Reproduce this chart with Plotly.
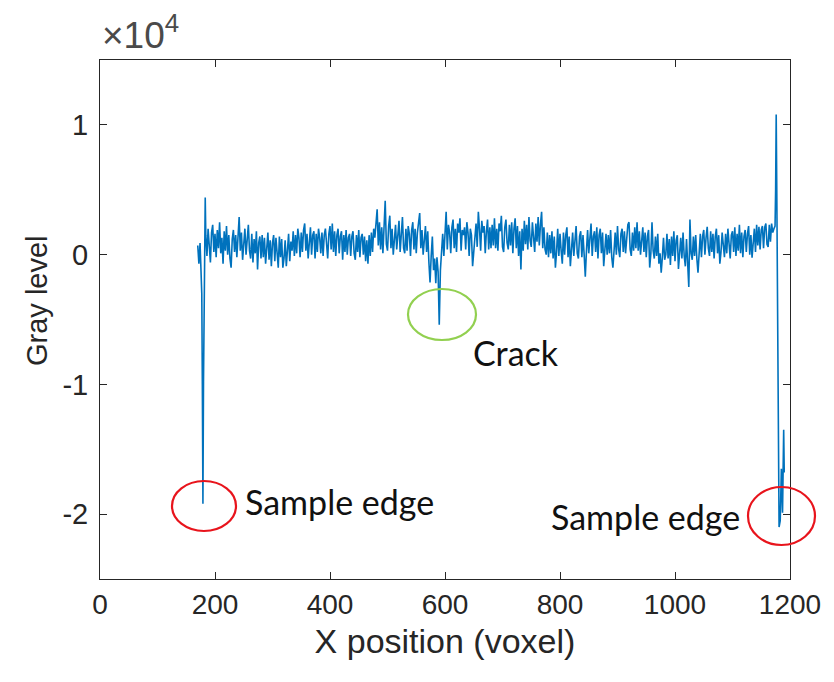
import plotly.graph_objects as go

# ---------------- data ----------------
left_edge_x = [170, 172, 174, 176, 177, 178, 179, 180, 181, 182, 183]
left_edge_y = [700, -700, 900, -1200, -3000, -10000, -19200, -9800, -2500, 1500, 4400]

interior_start = 184
interior_step = 2
interior_y = [
    1500, -100, 2000, 600, -600, 1700, 2300, 200, 1600, -200, 1900, 500, 2500, 100, 1300, -700, 1800, 300, 2200, 0, 1500, -300, -1000, 1200, 1900,
    200, 1500, -200, 1800, 2900, 300, 1700, -400, 1300, 2000, 0, 1500, 2300, 300, -300, 1600, -600, 1200, 100, 1800, -1150, 900, 1400, -300, 1500,
    -200, 1300, -700, 1000, 1700, -400, 1100, -900, 900, 1500, -500, 1300, 0, -1000, 1400, -200, 1200, -1000, -300, 1100, -900, 800, 1600, -500, 1000,
    300, 1800, -100, 1500, 100, 2000, 1300, -200, 1700, 200, 1900, 2400, 300, 1600, -300, 1400, 2100, 0, 1500, 1800, -300, 1600, 200, 2000, 1300,
    100, 1700, -100, 1500, 2000, 300, -300, 1600, 2200, 400, 2400, 200, 1800, -100, 1500, 2000, 100, 1400, 1800, -400, 1500, 200, 1900, 0, 1300,
    1600, -100, 1400, 1800, 100, -400, 1500, 200, 1900, -200, 1300, 1600, 0, 1400, -500, 1100, -700, 1500, -100, 1700, 200, 2000, 1300, 2300, 3500,
    700, 2500, 400, 2100, 100, 2800, 4150, 800, 300, 2200, 3000, 500, 2000, 0, 1700, 2300, 400, 1900, 2600, 200, 1800, 2900, 500, 100, 2000,
    300, 2200, 1600, -100, 1900, 2500, 400, 2000, 100, 1700, 2300, 3200, 500, 1900, 0, 1600, 2200, 200, 1800, -600, -2150, -100, 1400, -1200, -300,
    -2200, -200, -1300, -5400, -1200, 200, 1600, -100, 2000, 3300, 400, 2300, 1700, 100, 2100, 2700, 500, 2000, 200, 2400, 1700, 2800, 300, 1900, 1500,
    2100, 400, 2500, 1700, -100, 2000, 1500, -900, 200, 1900, 2400, 600, 3300, 2000, 300, 2600, 1700, 2200, 100, 1800, 2700, 400, 2100, 500, 2300,
    700, 2800, 500, 2000, 300, 2400, 1800, 3000, 600, 200, 2100, 2700, 900, 400, 2300, 700, 2500, 100, 2000, 2800, 500, 2200, -100, 1800, -1150,
    2000, 300, 2600, 800, 2300, 400, 2900, 1100, 600, 2500, 900, 200, 2400, 1000, 2900, 700, 2300, 3300, 500, 2100, 400, 0, 1700, -200, 1500,
    100, 1800, -300, 1400, -1000, 200, 2000, -100, 1600, 300, -700, 1700, 0, 1500, 2100, -200, 1400, -900, 200, 1700, -100, 1500, 2200, 100, -300,
    1400, 1800, -200, 1500, 0, -1700, 300, 1900, 100, 1600, 2400, -100, 1400, 1800, 200, 2100, -300, 1500, 2000, 100, 1700, -900, 300, 1600, 0,
    1500, 100, 1900, -200, -1000, 300, 1700, 0, 2200, 400, -200, 1600, 2000, 200, 1800, 100, 1500, 2300, 2500, 400, -100, 1700, 300, 2100, 500,
    2500, 300, 1800, 0, 1500, 2100, 200, 1700, -200, 1400, 1900, -1000, 100, 2500, 300, -300, 1400, -100, 1600, -700, 100, -1400, -200, 1300, -400,
    0, 1600, -300, 1200, -800, 1400, -100, 1800, -500, 1100, 1500, -1100, 0, 1300, -300, 1700, -100, -900, 1200, -200, -2500, 2700, 100, -400, 1400,
    -100, 1500, -300, -1400, 100, 1600, -200, 1400, 1900, 0, 1300, 2150, 500, -100, 1800, 200, 1600, -300, 1400, 2000, 100, 1500, -700, 200, 1700,
    300, -200, 1600, 100, 2000, 400, -300, 1500, 1800, 200, 2100, -100, 1600, 300, 2300, 100, 1700, -200, 1400, 1900, 200, 1600, 2200, 0, 1500,
    -230, 1400, 2000, 200, 2300, 700, 2150, 400, 1900, 2200, 500, 2100, 2400, 800, 600, 2300, 1000, 2400, 1700,
]

right_edge_x = [1172, 1174, 1175, 1176, 1177, 1179, 1181, 1183, 1185, 1187, 1189, 1190]
right_edge_y = [2000, 2200, 5000, 10800, 5000, -8600, -21000, -20500, -16500, -19900, -13500, -16800]

x_ticks = [0, 200, 400, 600, 800, 1000, 1200]
y_ticks = [-20000, -10000, 0, 10000]
y_tick_text = ["-2", "-1", "0", "1"]

interior_x = [interior_start + interior_step * i for i in range(len(interior_y))]
xs = left_edge_x + interior_x + right_edge_x
ys = left_edge_y + interior_y + right_edge_y

# ---------------- layout geometry ----------------
W, H = 834, 682
OFF = 8                      # page body margin
L, R, T, B = 100, 790, 60, 579   # plot box as seen on screen


def px_x(p):
    return (p - L) / (R - L)


def px_y(p):
    return (B - p) / (B - T)


FONT = "Liberation Sans, Arial"
INK = "#262626"

fig = go.Figure()
fig.add_trace(go.Scatter(x=xs, y=ys, mode="lines",
                         line=dict(color="#0072BD", width=1.6), showlegend=False))

axis_common = dict(showgrid=False, zeroline=False, showline=True, linecolor=INK,
                   linewidth=1, mirror="ticks", ticks="inside", ticklen=7,
                   tickcolor=INK, tickwidth=1)

fig.update_xaxes(range=[0, 1200], tickvals=x_ticks,
                 tickfont=dict(family=FONT, size=28, color=INK),
                 title=dict(text="X position (voxel)", standoff=10,
                            font=dict(family=FONT, size=34, color=INK)),
                 **axis_common)
fig.update_yaxes(range=[-25000, 15000], tickvals=y_ticks, ticktext=y_tick_text,
                 tickfont=dict(family=FONT, size=29, color=INK), ticklabelstandoff=5,
                 **axis_common)

fig.update_layout(width=W, height=H,
                  margin=dict(l=L - OFF, r=W - (R - OFF), t=T - OFF, b=H - (B - OFF)),
                  paper_bgcolor="white", plot_bgcolor="white")

# y-axis title (placed as in the reference, slightly above plot centre)
fig.add_annotation(text="Gray level", xref="paper", yref="paper",
                   x=px_x(37), y=px_y(301), xanchor="center", yanchor="middle",
                   textangle=-90, showarrow=False,
                   font=dict(family=FONT, size=29, color=INK))

# exponent label
fig.add_annotation(text="×10<sup>4</sup>", xref="paper", yref="paper",
                   x=0, y=1.0, xanchor="left", yanchor="bottom", yshift=2, showarrow=False,
                   font=dict(family=FONT, size=37, color="#4a4a4a"))

# callouts
ann_font = dict(family="Lato, Open Sans", size=34, color="#111111")
fig.add_annotation(text="Sample edge", xref="paper", yref="paper", x=px_x(243), y=px_y(501),
                   xanchor="left", yanchor="middle", showarrow=False, font=ann_font)
fig.add_annotation(text="Crack", xref="paper", yref="paper", x=px_x(471), y=px_y(352),
                   xanchor="left", yanchor="middle", showarrow=False, font=ann_font)
fig.add_annotation(text="Sample edge", xref="paper", yref="paper", x=px_x(549), y=px_y(516),
                   xanchor="left", yanchor="middle", showarrow=False, font=ann_font)

ellipses = [
    (172, 236, 481, 531, "#E8141C"),
    (408, 476, 289, 340, "#92D050"),
    (748, 815, 487, 545, "#E8141C"),
]
for x0, x1, y0, y1, c in ellipses:
    fig.add_shape(type="circle", xref="paper", yref="paper",
                  x0=px_x(x0), x1=px_x(x1), y0=px_y(y1), y1=px_y(y0),
                  line=dict(color=c, width=2.2))

fig.write_html("out.html")
